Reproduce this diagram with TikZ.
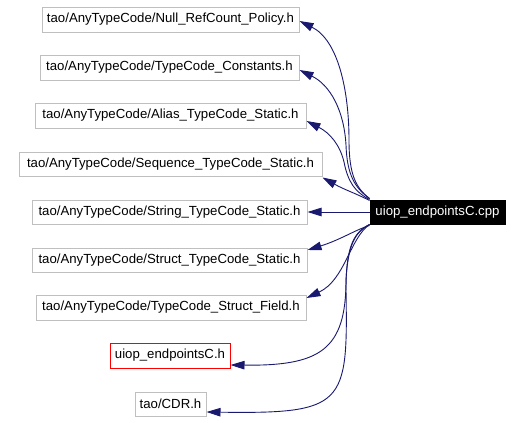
\documentclass[tikz,border=0pt]{standalone}
\usepackage{fontspec}
\setmainfont{Liberation Sans}
\usetikzlibrary{arrows.meta,calc}
\definecolor{edgeblue}{RGB}{25,25,112}
\definecolor{boxgray}{RGB}{191,191,191}
\begin{document}
\begin{tikzpicture}[x=1pt,y=-1pt,
  filebox/.style={draw=boxgray,line width=1pt,inner sep=0pt,minimum height=25pt,font=\fontsize{13.2}{15}\selectfont,text=black},
  redbox/.style={filebox,draw=red},
  mainbox/.style={fill=black,draw=black,line width=1pt,inner sep=0pt,minimum height=24pt,font=\fontsize{13.2}{15}\selectfont,text=white},
  edge/.style={draw=edgeblue,line width=0.9pt,-{Triangle[length=14pt,width=8.5pt]},color=edgeblue}]
\useasboundingbox (0,0) rectangle (523,423);
\fill[white] (0,0) rectangle (523,423);
\node[filebox,minimum width=257pt] (n1) at (170.5,19.5) {tao/AnyTypeCode/Null\_RefCount\_Policy.h};
\node[filebox,minimum width=259pt] (n2) at (169.5,67.5) {tao/AnyTypeCode/TypeCode\_Constants.h};
\node[filebox,minimum width=271pt] (n3) at (170.5,115.5) {tao/AnyTypeCode/Alias\_TypeCode\_Static.h};
\node[filebox,minimum width=303pt,minimum height=24pt] (n4) at (170.5,164) {tao/AnyTypeCode/Sequence\_TypeCode\_Static.h};
\node[filebox,minimum width=275pt,minimum height=24pt] (n5) at (169.5,212) {tao/AnyTypeCode/String\_TypeCode\_Static.h};
\node[filebox,minimum width=275pt,minimum height=24pt] (n6) at (169.5,260) {tao/AnyTypeCode/Struct\_TypeCode\_Static.h};
\node[filebox,minimum width=270pt] (n7) at (171,307.5) {tao/AnyTypeCode/TypeCode\_Struct\_Field.h};
\node[redbox,minimum width=120pt] (n8) at (170,355.5) {uiop\_endpointsC.h};
\node[filebox,minimum width=71pt,minimum height=24pt] (n9) at (170.5,404) {tao/CDR.h};
\node[mainbox,minimum width=135pt] (m) at (437.5,212) {uiop\_endpointsC.cpp};
% edges
\draw[edge] ([yshift=1pt]m.north west) .. controls (356,188) and (349,175) .. (349,140)
  .. controls (349,90) and (338,40) .. ([yshift=-1.5pt]n1.east);
\draw[edge] ([yshift=1pt]m.north west) .. controls (355,188) and (347,175) .. (346,145)
  .. controls (344,110) and (330,85) .. ([yshift=-2.5pt]n2.east);
\draw[edge] ([yshift=0pt]m.north west) .. controls (355,192) and (348,182) .. (344,162)
  .. controls (340,145) and (330,133) .. ([yshift=-5.5pt]n3.east);
\draw[edge] ([yshift=-1pt]m.north west) .. controls (355,193) and (345,190) .. ([yshift=-1pt]n4.south east);
\draw[edge] (m.west) -- (n5.east);
\draw[edge] ([yshift=-1pt]m.south west) .. controls (355,230) and (340,240) .. ([yshift=10pt]n6.east);
\draw[edge] (m.south west) .. controls (350,238) and (345,280) .. ([yshift=9.5pt]n7.east);
\draw[edge] (m.south west) .. controls (355,232) and (348,245) .. (346,280)
  .. controls (346,350) and (320,366) .. ([yshift=-9.5pt]n8.east);
\draw[edge] (m.south west) .. controls (352,233) and (346,250) .. (346,290)
  .. controls (348,405) and (345,414) .. ([yshift=-8pt]n9.east);
\end{tikzpicture}
\end{document}
